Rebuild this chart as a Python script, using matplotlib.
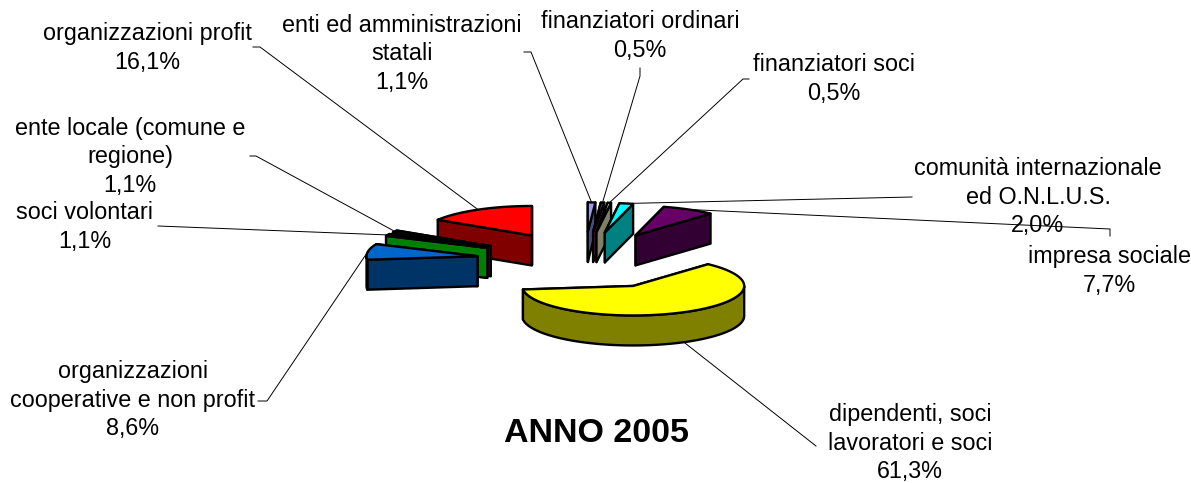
import numpy as np
import matplotlib
matplotlib.use("Agg")
import matplotlib.pyplot as plt
from matplotlib.patches import Polygon

plt.rcParams['font.family'] = ['Liberation Sans', 'DejaVu Sans']

# slices, clockwise starting from 12 o'clock
nomi = ["enti ed amministrazioni\nstatali", "finanziatori ordinari", "finanziatori soci",
        "comunità internazionale\ned O.N.L.U.S.", "impresa sociale",
        "dipendenti, soci\nlavoratori e soci", "organizzazioni\ncooperative e non profit",
        "soci volontari", "ente locale (comune e\nregione)", "organizzazioni profit"]
valori = [1.1, 0.5, 0.5, 2.0, 7.7, 61.3, 8.6, 1.1, 1.1, 16.1]
colori_top = ["#9999FF", "#993366", "#FFFFCC", "#00FFFF", "#660066",
              "#FFFF00", "#0066CC", "#00A000", "#000000", "#FF0000"]
colori_lato = ["#4C4C80", "#4D1A33", "#808066", "#008080", "#330033",
               "#808000", "#003366", "#008000", "#400040", "#800000"]

# layout, in pixels of the figure
CX, CY = 584, 260.5
RX, RY = 111, 29.5
PROF = 30
ESPLOSO = 0.97
ordine = [9, 8, 7, 6, 0, 1, 2, 3, 4, 5]  # back to front
pos_testo = [(402, 54), (640, 36), (834, 79), (1038, 197), (1109, 271),
             (910, 443), (133, 400), (85, 227), (130, 157), (147, 48)]
# elbows of the leader lines, from the label towards the slice
gomiti = [[(524, 52), (531, 52)], [(640, 68), (640, 76)], [(749, 79), (743, 79)],
          [(912, 197)], [(1110, 236), (1110, 229)], [(816, 446)],
          [(258, 401), (267, 401)], [(158, 226)], [(250, 156), (256, 156)],
          [(253, 47), (260, 47)]]

fig = plt.figure(figsize=(11.91, 4.83), dpi=100)
ax = fig.add_axes([0, 0, 1, 1])
ax.set_xlim(0, 1191)
ax.set_ylim(483, 0)
ax.axis('off')

fine = np.cumsum(valori) / sum(valori) * 2 * np.pi
inizio = np.concatenate([[0], fine[:-1]])
medio = (inizio + fine) / 2
apice_x = CX + ESPLOSO * RX * np.sin(medio)
apice_y = CY - ESPLOSO * RY * np.cos(medio)


def rim(i, t):
    return apice_x[i] + RX * np.sin(t), apice_y[i] - RY * np.cos(t)


def poly(pts, color, z):
    ax.add_patch(Polygon(pts, closed=True, facecolor=color, edgecolor='black',
                         lw=1.7, joinstyle='round', zorder=z))


# leader lines
for i in range(len(valori)):
    mx, my = rim(i, medio[i])
    if np.cos(medio[i]) < 0:
        my += PROF
    xs = [p[0] for p in gomiti[i]] + [mx]
    ys = [p[1] for p in gomiti[i]] + [my]
    ax.plot(xs, ys, color='black', lw=0.7, zorder=1)

# slices
z = 2
for i in ordine:
    a0, a1 = inizio[i], fine[i]
    ax0, ay0 = apice_x[i], apice_y[i]
    facce = []
    for t in (a0, a1):
        x, y = rim(i, t)
        facce.append((y, [(ax0, ay0), (x, y), (x, y + PROF), (ax0, ay0 + PROF)]))
    for _, q in sorted(facce, key=lambda f: f[0]):
        poly(q, colori_lato[i], z)
        z += 1
    # outer wall, only the part facing the viewer
    f0, f1 = max(a0, np.pi / 2), min(a1, 3 * np.pi / 2)
    if f1 > f0:
        t = np.linspace(f0, f1, 80)
        x, y = rim(i, t)
        pts = list(zip(x, y)) + list(zip(x[::-1], y[::-1] + PROF))
        poly(pts, colori_lato[i], z)
        z += 1
    t = np.linspace(a0, a1, 120)
    x, y = rim(i, t)
    poly([(ax0, ay0)] + list(zip(x, y)), colori_top[i], z)
    z += 1

# labels
for i, nome in enumerate(nomi):
    perc = f"{valori[i]:.1f}".replace('.', ',') + "%"
    ax.text(pos_testo[i][0], pos_testo[i][1], nome + "\n" + perc, ha='center', va='center',
            multialignment='center', fontsize=16.8, linespacing=1.29, color='black', zorder=200)

ax.text(596, 434, "ANNO 2005", ha='center', va='center', fontsize=24.5,
        fontweight='bold', color='black', zorder=200)

fig.savefig("out.png", dpi=100)
